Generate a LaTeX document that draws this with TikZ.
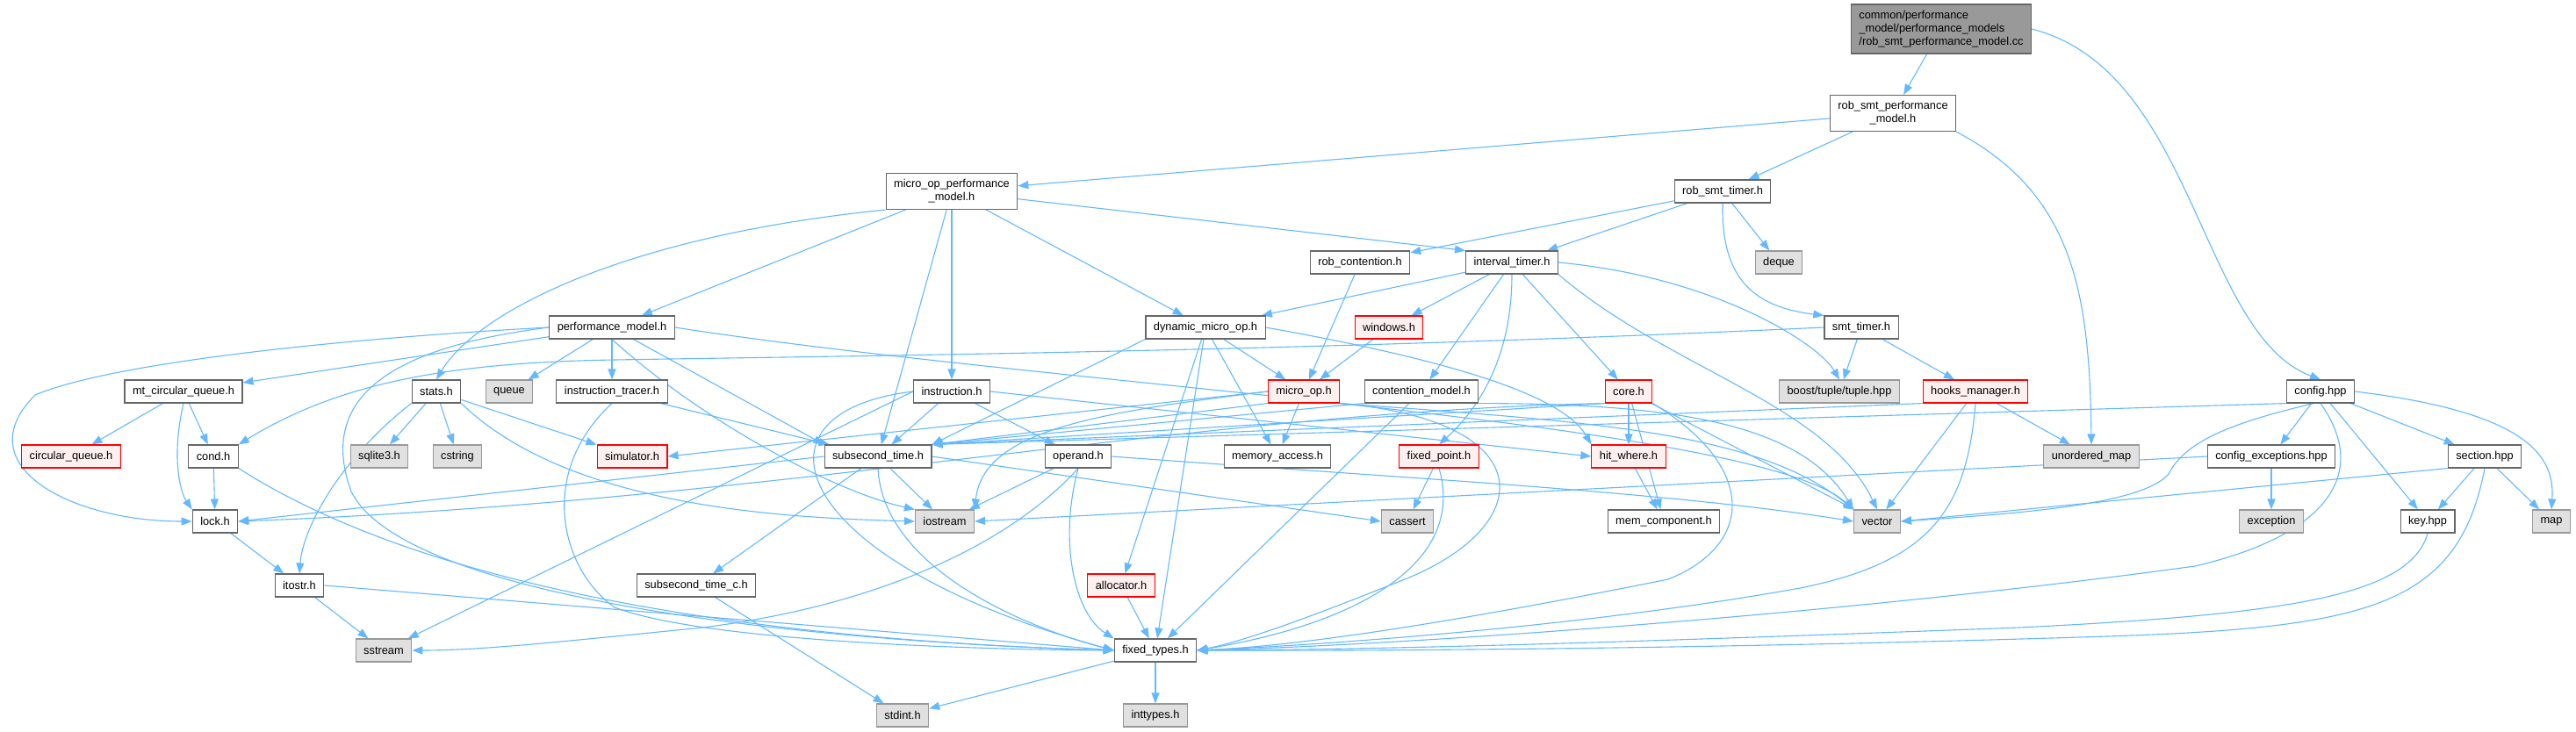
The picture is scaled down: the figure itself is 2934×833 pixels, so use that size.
\documentclass[tikz,border=0pt]{standalone}
\usepackage{fontspec}
\setmainfont{Liberation Sans}
\usepackage{tikz}
\usetikzlibrary{arrows.meta}
\usepackage{xcolor}

\definecolor{edgeblue}{HTML}{63B8FF}
\definecolor{boxline}{HTML}{666666}
\definecolor{sysfill}{HTML}{E0E0E0}
\definecolor{sysline}{HTML}{999999}
\definecolor{rootfill}{HTML}{999999}
\definecolor{cutfill}{HTML}{FFF0F0}
\definecolor{cutline}{HTML}{FF0000}

\pgfdeclarelayer{bg}
\pgfsetlayers{bg,main}

\newcommand{\gfont}{\fontsize{12.8}{15}\selectfont}

\begin{document}
\begin{tikzpicture}[x=1pt,y=-1pt,
  hdr/.style={draw=boxline, line width=1.1pt, fill=white, font=\gfont,
    inner xsep=9pt, inner ysep=3pt, minimum height=26pt, align=center},
  sysh/.style={hdr, draw=sysline, fill=sysfill},
  trunc/.style={hdr, draw=cutline, fill=cutfill},
  rootf/.style={hdr, fill=rootfill, align=left, minimum height=56pt},
  dep/.style={draw=edgeblue, line width=1.1pt, -{Triangle[length=12pt,width=9pt]}}]
  \useasboundingbox (0,0) rectangle (2934,833);

  % rows of the include graph
  \node[rootf] (root) at (2211,33) {common/performance\\\_model/performance\_models\\/rob\_smt\_performance\_model.cc};
  \node[hdr, minimum height=41pt] (rsperf) at (2156,129) {rob\_smt\_performance\\\_model.h};
  \node[hdr, minimum height=41pt] (mopperf) at (1084,218) {micro\_op\_performance\\\_model.h};
  \node[hdr] (rstimer) at (1962,218) {rob\_smt\_timer.h};
  \node[hdr] (robcont) at (1549,299) {rob\_contention.h};
  \node[hdr] (itimer) at (1722,299) {interval\_timer.h};
  \node[sysh] (deque) at (2026,299) {deque};
  \node[hdr] (perfmodel) at (697,373) {performance\_model.h};
  \node[hdr] (dynmop) at (1373,373) {dynamic\_micro\_op.h};
  \node[trunc] (windows) at (1582,373) {windows.h};
  \node[hdr] (smttimer) at (2120,373) {smt\_timer.h};
  \node[hdr] (mtcq) at (209,446) {mt\_circular\_queue.h};
  \node[hdr] (stats) at (497,446) {stats.h};
  \node[sysh] (queue) at (580,446) {queue};
  \node[hdr] (itracer) at (697,446) {instruction\_tracer.h};
  \node[hdr] (instr) at (1084,446) {instruction.h};
  \node[trunc] (microop) at (1485,446) {micro\_op.h};
  \node[hdr] (contmodel) at (1619,446) {contention\_model.h};
  \node[trunc] (core) at (1855,446) {core.h};
  \node[sysh] (boost) at (2095,446) {boost/tuple/tuple.hpp};
  \node[trunc] (hooks) at (2250,446) {hooks\_manager.h};
  \node[hdr] (config) at (2643,446) {config.hpp};
  \node[trunc] (cq) at (81,520) {circular\_queue.h};
  \node[hdr] (cond) at (243,520) {cond.h};
  \node[sysh] (sqlite) at (432,520) {sqlite3.h};
  \node[sysh] (cstring) at (521,520) {cstring};
  \node[trunc] (simulator) at (720,520) {simulator.h};
  \node[hdr] (subsec) at (1000,520) {subsecond\_time.h};
  \node[hdr] (operand) at (1228,520) {operand.h};
  \node[hdr] (memacc) at (1455,520) {memory\_access.h};
  \node[trunc] (fixedpt) at (1639,520) {fixed\_point.h};
  \node[trunc] (hitwhere) at (1855,520) {hit\_where.h};
  \node[sysh] (umap) at (2382,520) {unordered\_map};
  \node[hdr] (cfgexc) at (2587,520) {config\_exceptions.hpp};
  \node[hdr] (section) at (2830,520) {section.hpp};
  \node[hdr] (lock) at (245,594) {lock.h};
  \node[sysh] (iostream) at (1076,594) {iostream};
  \node[sysh] (cassert) at (1603,594) {cassert};
  \node[hdr] (memcomp) at (1895,594) {mem\_component.h};
  \node[sysh] (vector) at (2138,594) {vector};
  \node[sysh] (exception) at (2587,594) {exception};
  \node[hdr] (key) at (2765,594) {key.hpp};
  \node[sysh] (map) at (2906,594) {map};
  \node[hdr] (itostr) at (341,667) {itostr.h};
  \node[hdr] (subsecc) at (793,667) {subsecond\_time\_c.h};
  \node[trunc] (allocator) at (1277,667) {allocator.h};
  \node[sysh] (sstream) at (437,741) {sstream};
  \node[hdr] (fixedtypes) at (1316,741) {fixed\_types.h};
  \node[sysh] (stdint) at (1028,815) {stdint.h};
  \node[sysh] (inttypes) at (1316,815) {inttypes.h};

  \begin{pgfonlayer}{bg}
  % top part
  \draw[dep] (root) -- (rsperf);
  \draw[dep] (root.east) .. controls (2500,80) and (2505,380) .. (config.north);
  \draw[dep] (rsperf) -- (mopperf);
  \draw[dep] (rsperf) -- (rstimer);
  \draw[dep] (rsperf.south east) .. controls (2360,220) and (2380,330) .. (umap.north);
  \draw[dep] (mopperf) -- (perfmodel);
  \draw[dep] (mopperf.south west) .. controls (700,270) and (540,360) .. (stats.north);
  \draw[dep] (mopperf) -- (instr);
  \draw[dep] (mopperf) -- (subsec);
  \draw[dep] (mopperf) -- (dynmop);
  \draw[dep] (mopperf) -- (itimer.north west);
  \draw[dep] (rstimer) -- (robcont);
  \draw[dep] (rstimer) -- (itimer);
  \draw[dep] (rstimer) -- (deque);
  \draw[dep] (rstimer.south) .. controls (1960,320) and (2000,350) .. (smttimer.north west);
  \draw[dep] (robcont) -- (microop);
  \draw[dep] (itimer) -- (dynmop);
  \draw[dep] (itimer) -- (windows);
  \draw[dep] (itimer) -- (contmodel);
  \draw[dep] (itimer.south) .. controls (1722,400) and (1690,460) .. (fixedpt.north);
  \draw[dep] (itimer) -- (core);
  \draw[dep] (itimer.south east) .. controls (1900,420) and (2080,460) .. (vector.north);
  \draw[dep] (itimer.east) .. controls (1950,315) and (2070,390) .. (boost.north);
  % performance_model.h
  \draw[dep] (perfmodel) -- (mtcq);
  \draw[dep] (perfmodel.west) .. controls (400,385) and (130,412) .. (40,450)
    .. controls (-40,530) and (80,594) .. (lock.west);
  \draw[dep] (perfmodel.west) .. controls (450,395) and (360,450) .. (400,560)
    .. controls (460,680) and (900,730) .. (fixedtypes.west);
  \draw[dep] (perfmodel) -- (queue);
  \draw[dep] (perfmodel) -- (itracer);
  \draw[dep] (perfmodel.south) .. controls (800,480) and (950,560) .. (iostream.north west);
  \draw[dep] (perfmodel) -- (subsec.north west);
  \draw[dep] (perfmodel.east) .. controls (1200,440) and (2000,480) .. (vector.north west);
  % dynamic_micro_op.h, smt_timer.h
  \draw[dep] (dynmop.south west) -- (subsec.north east);
  \draw[dep] (dynmop) -- (allocator);
  \draw[dep] (dynmop) -- (fixedtypes);
  \draw[dep] (dynmop) -- (memacc);
  \draw[dep] (dynmop) -- (microop);
  \draw[dep] (dynmop.east) .. controls (1650,410) and (1780,450) .. (hitwhere.north west);
  \draw[dep] (windows) -- (microop);
  \draw[dep] (smttimer) -- (boost);
  \draw[dep] (smttimer) -- (hooks);
  \draw[dep] (smttimer.west) .. controls (1500,400) and (1000,405) .. (700,410)
    .. controls (500,413) and (380,440) .. (cond.north east);
  % left side
  \draw[dep] (mtcq) -- (cq);
  \draw[dep] (mtcq) -- (cond);
  \draw[dep] (mtcq.south) .. controls (195,520) and (205,560) .. (lock.north west);
  \draw[dep] (stats) -- (sqlite);
  \draw[dep] (stats) -- (cstring);
  \draw[dep] (stats) -- (simulator);
  \draw[dep] (stats.south west) .. controls (390,520) and (345,600) .. (itostr.north);
  \draw[dep] (stats.south east) .. controls (650,580) and (900,590) .. (iostream.west);
  \draw[dep] (itracer) -- (subsec);
  \draw[dep] (itracer.south) .. controls (610,540) and (640,650) .. (700,692)
    .. controls (800,730) and (1100,740) .. (fixedtypes.west);
  \draw[dep] (cond) -- (lock);
  \draw[dep] (cond.south east) .. controls (500,680) and (900,730) .. (fixedtypes.west);
  \draw[dep] (lock) -- (itostr);
  \draw[dep] (itostr) -- (sstream);
  \draw[dep] (itostr.east) -- (fixedtypes.west);
  % middle
  \draw[dep] (instr) -- (subsec);
  \draw[dep] (instr) -- (operand);
  \draw[dep] (instr.west) -- (sstream);
  \draw[dep] (instr.west) .. controls (840,470) and (900,640) .. (fixedtypes.west);
  \draw[dep] (instr.east) -- (hitwhere.west);
  \draw[dep] (microop) -- (memacc);
  \draw[dep] (microop.south west) -- (subsec.north east);
  \draw[dep] (microop.west) -- (simulator.east);
  \draw[dep] (microop.west) .. controls (1250,470) and (1120,490) .. (iostream.north east);
  \draw[dep] (microop.south east) .. controls (1760,480) and (1750,600) .. (1600,660)
    .. controls (1500,700) and (1420,730) .. (fixedtypes.east);
  \draw[dep] (microop.south east) .. controls (1800,480) and (2000,490) .. (vector.north west);
  \draw[dep] (contmodel.south west) -- (subsec.north east);
  \draw[dep] (contmodel) -- (fixedtypes);
  \draw[dep] (contmodel.south east) .. controls (1900,460) and (2050,480) .. (vector.north west);
  \draw[dep] (core) -- (hitwhere);
  \draw[dep] (core) -- (memcomp);
  \draw[dep] (core) -- (vector);
  \draw[dep] (core.south west) -- (subsec.north east);
  \draw[dep] (core.south west) .. controls (1350,470) and (900,570) .. (lock.east);
  \draw[dep] (core.south east) .. controls (2000,530) and (2000,620) .. (1900,660)
    .. controls (1700,700) and (1500,735) .. (fixedtypes.east);
  \draw[dep] (fixedpt) -- (cassert);
  \draw[dep] (fixedpt.south) .. controls (1670,640) and (1550,710) .. (fixedtypes.east);
  \draw[dep] (hitwhere) -- (memcomp);
  \draw[dep] (subsec.west) -- (lock.east);
  \draw[dep] (subsec) -- (iostream);
  \draw[dep] (subsec.east) -- (cassert.west);
  \draw[dep] (subsec) -- (subsecc);
  \draw[dep] (subsec.south) .. controls (1005,640) and (1150,710) .. (fixedtypes.west);
  \draw[dep] (operand) -- (iostream);
  \draw[dep] (operand.south) .. controls (1150,620) and (1000,690) .. (800,715)
    .. controls (650,730) and (550,741) .. (sstream.east);
  \draw[dep] (operand.south) .. controls (1205,620) and (1225,700) .. (fixedtypes.north west);
  \draw[dep] (operand.east) .. controls (1600,545) and (1900,560) .. (vector.west);
  \draw[dep] (subsecc) -- (stdint);
  \draw[dep] (allocator) -- (fixedtypes);
  \draw[dep] (fixedtypes) -- (stdint);
  \draw[dep] (fixedtypes) -- (inttypes);
  % right side
  \draw[dep] (hooks) -- (umap);
  \draw[dep] (hooks) -- (vector);
  \draw[dep] (hooks.south west) -- (subsec.north east);
  \draw[dep] (hooks.south) .. controls (2240,580) and (2200,640) .. (2050,670)
    .. controls (1800,715) and (1500,735) .. (fixedtypes.east);
  \draw[dep] (config.south west) -- (subsec.north east);
  \draw[dep] (config.240) .. controls (2550,480) and (2490,500) .. (2470,540)
    .. controls (2440,575) and (2300,585) .. (vector.east);
  \draw[dep] (config) -- (cfgexc);
  \draw[dep] (config) -- (key);
  \draw[dep] (config) -- (section);
  \draw[dep] (config.east) .. controls (2880,470) and (2910,520) .. (map.north);
  \draw[dep] (config.south) .. controls (2700,540) and (2650,610) .. (2500,645)
    .. controls (2100,700) and (1600,735) .. (fixedtypes.east);
  \draw[dep] (cfgexc) -- (exception);
  \draw[dep] (cfgexc.west) -- (iostream.east);
  \draw[dep] (section.south west) -- (vector.east);
  \draw[dep] (section) -- (key);
  \draw[dep] (section) -- (map);
  \draw[dep] (section.south) .. controls (2800,690) and (2700,715) .. (2400,725)
    .. controls (2000,738) and (1600,742) .. (fixedtypes.east);
  \draw[dep] (key.south) .. controls (2745,680) and (2600,700) .. (2300,715)
    .. controls (1900,730) and (1600,740) .. (fixedtypes.east);
  \end{pgfonlayer}
\end{tikzpicture}
\end{document}
